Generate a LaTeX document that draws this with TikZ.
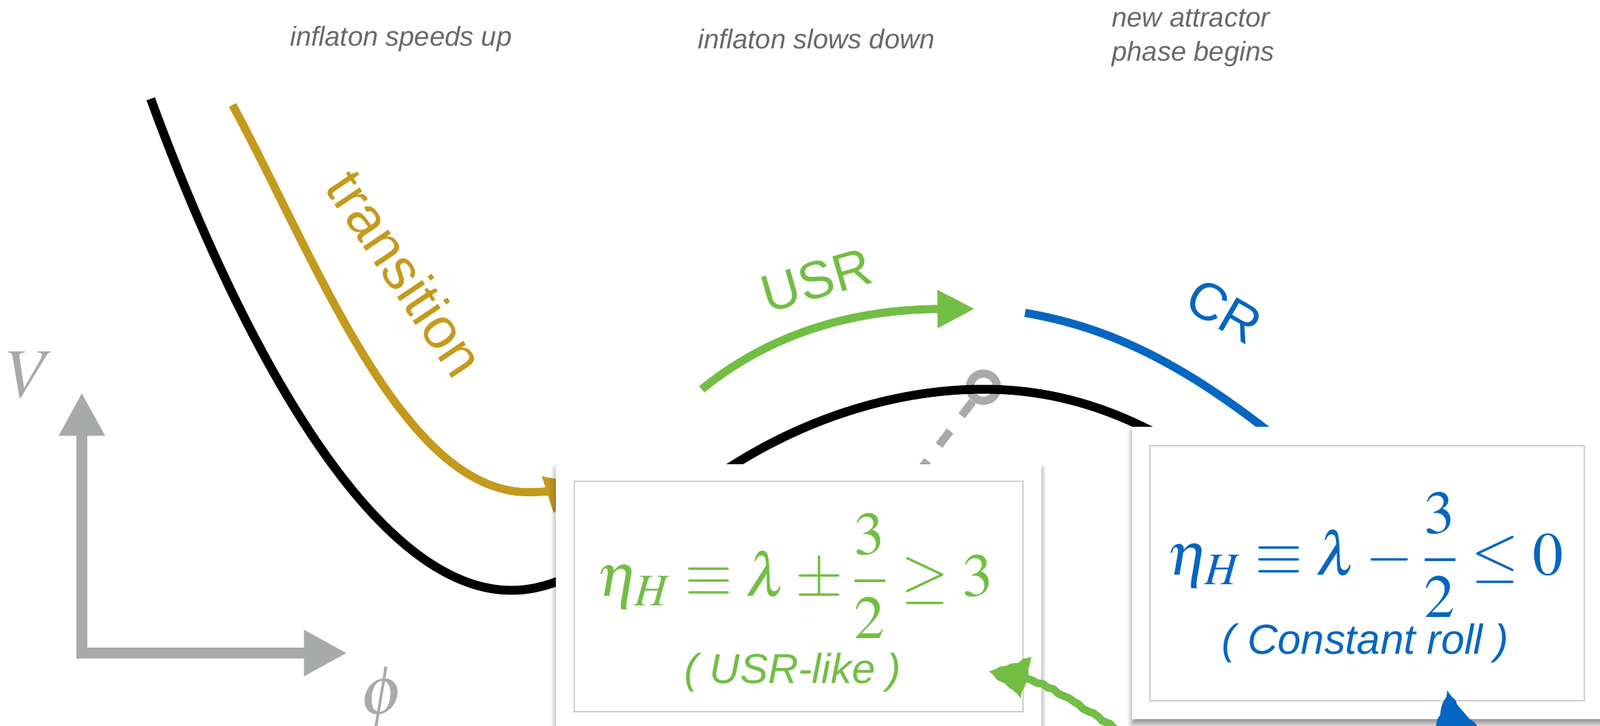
\documentclass[tikz,border=0pt]{standalone}
\usepackage{mathptmx}
\usepackage[no-math]{fontspec}
\setmainfont{Liberation Sans}
\usetikzlibrary{arrows.meta,shadows.blur,decorations.pathmorphing}
\definecolor{usrgreen}{RGB}{114,190,68}
\definecolor{crblue}{RGB}{5,102,193}
\definecolor{transgold}{RGB}{196,154,30}
\definecolor{axisgray}{RGB}{167,170,169}
\definecolor{notegray}{RGB}{105,105,105}
\definecolor{framegray}{RGB}{205,205,205}

\begin{document}
\begin{tikzpicture}[
	potential/.style={line width=3.7pt},
	track/.style={line width=3.4pt},
	axisline/.style={axisgray,line width=4.6pt,-{Triangle[length=18pt,width=18pt]}},
	note/.style={notegray,font=\fontsize{11.4}{14.2}\selectfont\itshape},
	phase/.style={font=\fontsize{22}{26}\selectfont},
	card/.style={fill=white,inner sep=0pt,blur shadow={shadow blur steps=10,shadow xshift=0pt,shadow yshift=-2pt,shadow opacity=45}},
	frame/.style={draw=framegray,line width=0.5pt,inner sep=0pt},
	formula/.style={font=\fontsize{25.5}{30}\selectfont},
	caption/.style={font=\fontsize{17.5}{21}\selectfont\itshape},
	scribble/.style={decorate,decoration={random steps,segment length=2.5pt,amplitude=0.6pt}}
	]
	\useasboundingbox (0,0) rectangle (23.46,10.64);

	% top notes
	\node[note] (speedup) at (5.88,10.07) {inflaton speeds up};
	\node[note] (slowdown) at (11.97,10.07) {inflaton slows down};
	\node[note,align=left,anchor=west] (attractor) at (16.18,10.08) {new attractor\\phase begins};

	% marker on the top of the bump
	\draw[axisgray,line width=3.4pt] (14.42,4.96) circle (0.20);
	\draw[axisgray,line width=3.4pt,dash pattern=on 7.5pt off 8pt] (14.26,4.75) -- (13.2,3.36);

	% potential
	\draw[potential] (2.21,9.19) .. controls (3.3,6.2) and (5.3,1.98) .. (7.5,1.98)
		.. controls (8.6,1.98) and (9.6,3.1) .. (10.77,3.83)
		.. controls (12.0,4.6) and (13.3,4.93) .. (14.42,4.93)
		.. controls (15.6,4.93) and (16.6,4.55) .. (17.6,3.9);

	% phases
	\draw[track,transgold,-{Triangle[length=15.5pt,width=15pt]}] (3.41,9.10) .. controls (4.65,6.8) and (5.9,3.42) .. (7.75,3.42)
		.. controls (8.05,3.42) and (8.3,3.47) .. (8.55,3.55);
	\draw[track,usrgreen,-{Triangle[length=15.5pt,width=15pt]}] (10.29,4.93) .. controls (11.3,5.75) and (12.5,6.1) .. (14.29,6.11);
	\draw[track,crblue] (15.03,6.05) .. controls (16.5,5.8) and (17.7,5.1) .. (19.3,3.74);

	\node[transgold,font=\fontsize{24}{28}\selectfont,rotate=-56] (translabel) at (5.95,6.63) {transition};
	\node[usrgreen,phase,rotate=16] (usrlabel) at (11.97,6.53) {USR};
	\node[crblue,phase,rotate=-30] (crlabel) at (17.95,6.08) {CR};

	% USR-like card
	\node[card,minimum width=7.12cm,minimum height=4.09cm] (usrcard) at (11.71,1.785) {};
	\node[frame,minimum width=6.58cm,minimum height=3.38cm] (usrframe) at (11.71,1.89) {};
	\node[usrgreen,formula] (usreq) at (11.66,2.19) {$\displaystyle \eta_H\equiv\lambda\pm\frac{3}{2}\geq 3$};
	\node[usrgreen,caption] (usrnote) at (11.62,0.77) {( USR-like )};

	% constant roll card
	\node[card,minimum width=6.92cm,minimum height=4.29cm] (crcard) at (20.06,2.235) {};
	\node[frame,minimum width=6.37cm,minimum height=3.74cm] (crframe) at (20.045,2.23) {};
	\node[crblue,formula] (creq) at (20.02,2.50) {$\displaystyle \eta_H\equiv\lambda-\frac{3}{2}\leq 0$};
	\node[crblue,caption] (crnote) at (20.02,1.20) {( Constant roll )};

	% hand drawn pointers
	\coordinate (greentip) at (14.50,0.79);
	\coordinate (greentail) at (16.5,-0.15);
	\fill[usrgreen,scribble] (greentip) -- (15.12,1.00) -- (14.97,0.39) -- cycle;
	\draw[usrgreen,line width=3.2pt,scribble] (15.03,0.70) .. controls (15.6,0.45) .. (greentail);
	\coordinate (bluetip) at (21.22,0.51);
	\fill[crblue,scribble] (bluetip) -- (21.70,-0.08) -- (21.02,-0.08) -- cycle;

	% axes
	\coordinate (orig) at (1.20,1.06);
	\draw[axisline] (1.20,0.98) -- (1.20,4.88);
	\draw[axisline] (orig) -- (5.09,1.06);
	\node[axisgray,font=\fontsize{29}{34}\selectfont] (vlabel) at (0.45,5.14) {$V$};
	\node[axisgray,font=\fontsize{29}{34}\selectfont] (philabel) at (5.61,0.39) {$\phi$};
\end{tikzpicture}
\end{document}
